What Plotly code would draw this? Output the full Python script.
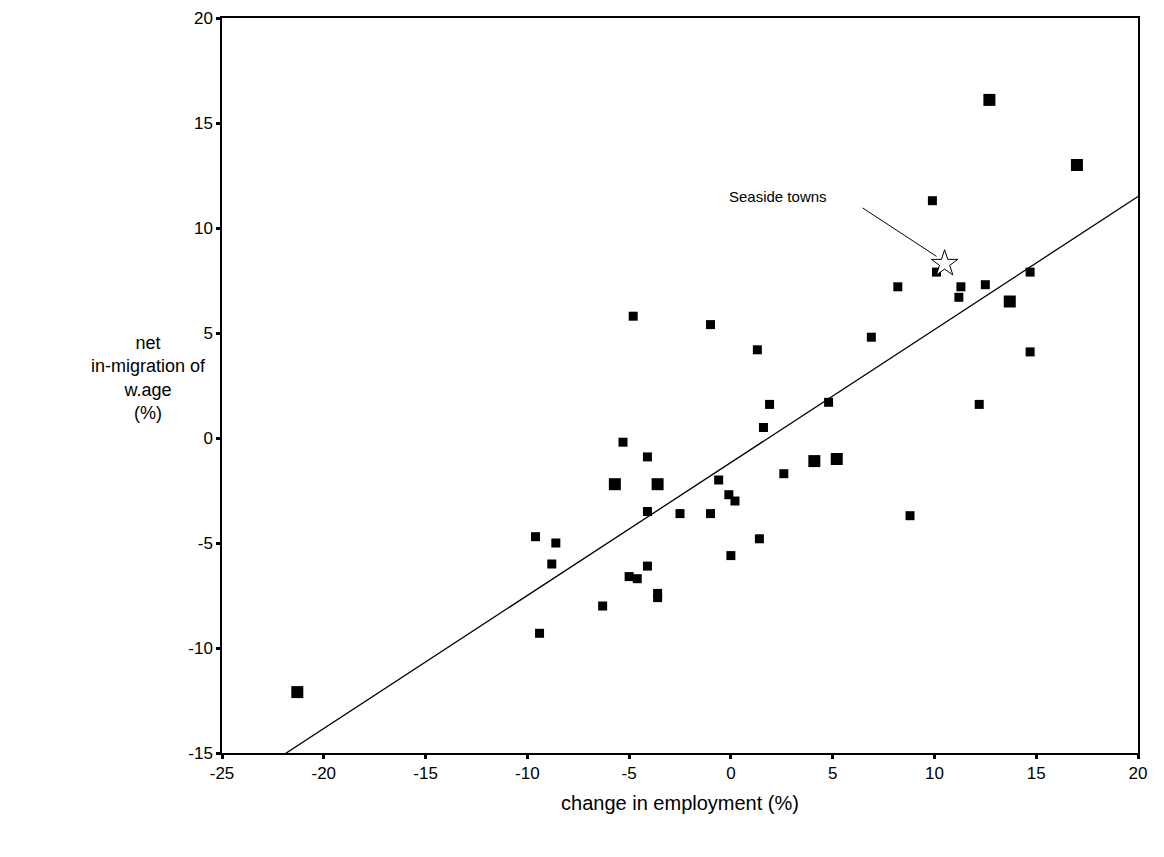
import plotly.graph_objects as go

emp = [-21.3, -9.6, -8.6, -8.8, -9.4, -6.3, -5.0, -4.6, -4.1, -3.6, -3.6,
       -5.7, -5.3, -4.1, -4.1, -3.6, -2.5, -1.0, -0.6, -0.1, 0.2, 0.0, 1.4,
       -4.8, -1.0, 1.3, 1.6, 1.9, 2.6, 4.1, 5.2, 4.8, 6.9, 8.2, 8.8, 9.9,
       10.1, 11.2, 11.3, 12.2, 12.5, 12.7, 13.7, 14.7, 14.7, 17.0]
mig = [-12.1, -4.7, -5.0, -6.0, -9.3, -8.0, -6.6, -6.7, -6.1, -7.4, -7.6,
       -2.2, -0.2, -0.9, -3.5, -2.2, -3.6, -3.6, -2.0, -2.7, -3.0, -5.6, -4.8,
       5.8, 5.4, 4.2, 0.5, 1.6, -1.7, -1.1, -1.0, 1.7, 4.8, 7.2, -3.7, 11.3,
       7.9, 6.7, 7.2, 1.6, 7.3, 16.1, 6.5, 7.9, 4.1, 13.0]
big = [0, 11, 15, 29, 30, 41, 42, 45]
sizes = [12 if i in big else 9 for i in range(len(emp))]

fit_x = [-22, 20]
fit_y = [-15.1, 11.5]
seaside = (10.5, 8.3)

xticks = [-25, -20, -15, -10, -5, 0, 5, 10, 15, 20]
yticks = [-15, -10, -5, 0, 5, 10, 15, 20]

fig = go.Figure()
fig.add_trace(go.Scatter(x=fit_x, y=fit_y, mode="lines",
                         line=dict(color="black", width=1.3)))
fig.add_trace(go.Scatter(x=emp, y=mig, mode="markers",
                         marker=dict(symbol="square", color="black", size=sizes,
                                     opacity=1, line=dict(width=0))))
fig.add_trace(go.Scatter(x=[seaside[0]], y=[seaside[1]], mode="markers",
                         marker=dict(symbol="star", color="white", size=20,
                                     opacity=1,
                                     line=dict(color="black", width=1))))

fig.add_annotation(x=seaside[0] - 0.4, y=seaside[1] + 0.35, ax=6.4, ay=11.0,
                   axref="x", ayref="y", showarrow=True, arrowhead=0,
                   arrowwidth=1, arrowcolor="black", text="")
fig.add_annotation(x=2.3, y=11.5, text="Seaside towns", showarrow=False,
                   font=dict(size=15))
fig.add_annotation(xref="paper", yref="paper", x=-0.08, y=0.51,
                   text="net<br>in-migration of<br>w.age<br>(%)",
                   showarrow=False, xanchor="center", font=dict(size=18))

axis = dict(showgrid=False, zeroline=False, showline=True, linecolor="black",
            mirror=True, ticks="outside", ticklen=4, tickwidth=3,
            tickcolor="black", automargin=False, ticklabeloverflow="allow")
fig.update_xaxes(range=[-25, 20], tickvals=xticks,
                 ticktext=[str(v) for v in xticks], linewidth=1.5,
                 title=dict(text="change in employment (%)", standoff=14),
                 **axis)
fig.update_yaxes(range=[-15, 20], tickvals=yticks,
                 ticktext=[str(v) for v in yticks], linewidth=1.5, **axis)
fig.update_layout(width=1164, height=857, showlegend=False,
                  plot_bgcolor="white", paper_bgcolor="white",
                  margin=dict(l=214, r=34, t=10, b=112),
                  font=dict(family="Liberation Sans, Arial", size=17,
                            color="black"))
fig.write_html("out.html")
